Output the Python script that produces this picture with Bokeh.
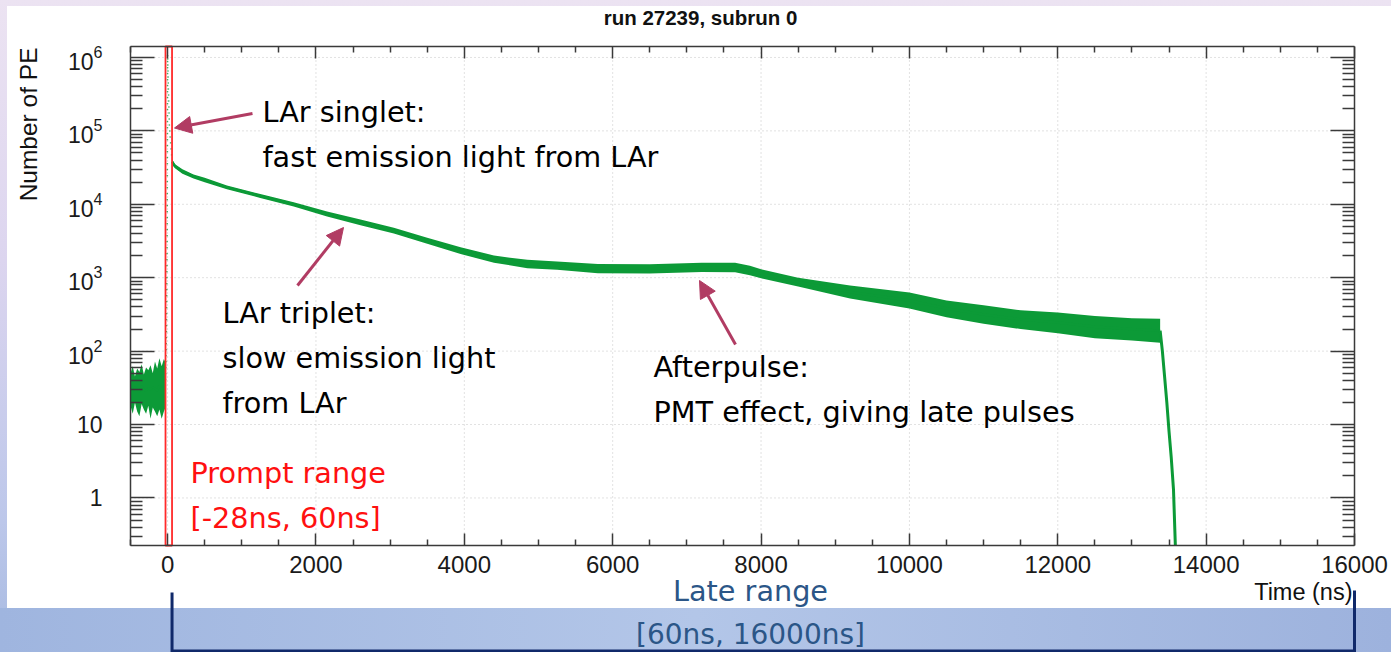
import math
from bokeh.plotting import figure
from bokeh.models import (Range1d, FixedTicker, LinearAxis, LogAxis, LogTickFormatter,
                          Label, Arrow, NormalHead)
from bokeh.embed import file_html
from bokeh.resources import INLINE

# ---------------- data ----------------
x_ticks = [0, 2000, 4000, 6000, 8000, 10000, 12000, 14000, 16000]
x_minor = [-500, 500, 1000, 1500, 2500, 3000, 3500, 4500, 5000, 5500, 6500, 7000, 7500,
           8500, 9000, 9500, 10500, 11000, 11500, 12500, 13000, 13500, 14500, 15000, 15500]
y_decades = [1, 10, 100, 1000, 10000, 100000, 1000000]

# pre-trigger noise (ns, PE)
pre_t = [-500, -470, -440, -410, -380, -350, -320, -290, -260, -230, -200, -170, -140,
         -110, -80, -50, -28]
pre_lo = [18, 14, 20, 15, 13, 19, 16, 14, 18, 12, 17, 15, 13, 16, 12, 15, 17]
pre_hi = [50, 62, 45, 58, 52, 66, 48, 60, 55, 64, 50, 72, 58, 80, 62, 78, 70]
pre_mid = [31, 29, 32, 30, 28, 33, 30, 29, 31, 30, 32, 31, 29, 34, 30, 33, 35]

# prompt peak
prompt_t = [-28, -15, -5, 0, 10, 25, 45, 60]
prompt_v = [40, 200, 5000, 1100000, 400000, 110000, 60000, 40000]

# slow component + afterpulse
late_t = [60, 100, 200, 350, 500, 800, 1250, 1700, 2150, 2600, 3050, 3500, 3950, 4400,
          4850, 5250, 5800, 6500, 7200, 7650, 7850, 8000, 8500, 9200, 10000, 10500, 11000,
          11500, 12000, 12500, 13000, 13380]
late_mid = [38000, 33000, 28000, 24000, 21500, 17000, 13000, 10000, 7400, 5700, 4400, 3200,
            2350, 1800, 1550, 1470, 1330, 1320, 1390, 1380, 1260, 1130, 870, 640, 490, 380,
            315, 270, 245, 215, 200, 190]
late_lo = [35000, 31000, 26000, 22500, 20000, 16000, 12200, 9300, 6800, 5200, 4000, 2900,
           2100, 1600, 1350, 1280, 1150, 1140, 1200, 1190, 1080, 980, 760, 520, 380, 290,
           235, 200, 175, 150, 140, 130]
late_hi = [41000, 35000, 30000, 25500, 23000, 18000, 13800, 10700, 8000, 6200, 4800, 3500,
           2600, 2000, 1750, 1660, 1540, 1520, 1600, 1600, 1460, 1300, 1000, 780, 630, 490,
           420, 360, 335, 300, 280, 275]

# end of the acquisition window (last value = empty bins at the frame bottom)
tail_t = [13380, 13410, 13440, 13470, 13500, 13530, 13560, 13585]
tail_v = [190, 100, 45, 20, 8, 3.5, 1.3, 0.225]

prompt_range = [-28, 60]
late_range = [60, 16000]

# ---------------- geometry ----------------
W, H = 1391, 652
FL, FR, FT, FB = 130, 1354, 46, 545          # ROOT frame, in pixels
X0, X1 = -500, 16000                         # ROOT axis ranges
Y0, Y1 = 0.225, 1.41e6
LY0, LY1 = math.log10(Y0), math.log10(Y1)


def dx(px):
    return X0 + (px - FL) * (X1 - X0) / (FR - FL)


def dy(py):
    return 10 ** (LY1 - (py - FT) * (LY1 - LY0) / (FB - FT))


GREEN = "#0c9a37"
ARROW = "#b13c63"
NAVY = "#10296a"
AXC = "#3a3a3a"
HELV = "Liberation Sans"
SLIDE = "DejaVu Sans"

# the bokeh frame covers the whole slide; the ROOT frame is drawn with fixed-location axes
p = figure(width=W, height=H, x_range=Range1d(dx(0), dx(W)), y_range=Range1d(dy(H), dy(0)),
           y_axis_type="log", x_axis_location=None, y_axis_location=None,
           title_location=None, output_backend="svg", toolbar_location=None,
           min_border=0, min_border_left=0, min_border_right=0, min_border_top=0,
           min_border_bottom=0)
p.border_fill_color = None
p.background_fill_color = None
p.outline_line_color = None
p.grid.visible = False
p.styles = {
    "background": (
        "linear-gradient(#ffffff, #ffffff) 7px 6px / 1384px 602px no-repeat, "
        "linear-gradient(to right, #9fb5df 0%, #b3c6e8 50%, #9db2dd 100%) 0px 608px / 100% 44px no-repeat, "
        "linear-gradient(to bottom, #ece3f2 0%, #dcd5ef 40%, #bcc7ea 80%, #a7bae1 100%)"
    )
}

xt = FixedTicker(ticks=x_ticks, minor_ticks=x_minor)
y_minor = [m * 10 ** k for k in range(-1, 7) for m in range(2, 10)
           if Y0 <= m * 10 ** k <= Y1]
yt = FixedTicker(ticks=y_decades, minor_ticks=y_minor)

# dotted grid at the major ticks
p.segment(x0=x_ticks[:-1], y0=[Y0] * (len(x_ticks) - 1), x1=x_ticks[:-1],
          y1=[Y1] * (len(x_ticks) - 1), line_color="#c4c4c4", line_dash="1 3", line_width=1)
p.segment(x0=[X0] * len(y_decades), y0=y_decades, x1=[X1] * len(y_decades), y1=y_decades,
          line_color="#c4c4c4", line_dash="1 3", line_width=1)


def make_axis(cls, ticker, loc, bounds, major_in, minor_in, labels):
    ax = cls(ticker=ticker, fixed_location=loc, bounds=bounds)
    ax.major_tick_in = major_in
    ax.major_tick_out = 0
    ax.minor_tick_in = minor_in
    ax.minor_tick_out = 0
    ax.axis_line_color = AXC
    ax.axis_line_width = 1.5
    ax.major_tick_line_color = AXC
    ax.minor_tick_line_color = AXC
    ax.major_tick_line_width = 1.5
    ax.minor_tick_line_width = 1.5
    if labels:
        ax.major_label_text_font = HELV
        ax.major_label_text_color = "#1a1a1a"
    else:
        ax.major_label_text_font_size = "1px"
        ax.major_label_text_color = None
        ax.major_label_standoff = 0
    return ax


xa = make_axis(LinearAxis, xt, Y0, (X0, X1), 12, 6, True)
xa.major_label_text_font_size = "24px"
xa.major_label_standoff = 10
p.add_layout(xa, "below")
top = make_axis(LinearAxis, xt, Y1, (X0, X1), 12, 6, False)
p.add_layout(top, "above")
ya = make_axis(LogAxis, yt, X0, (Y0, Y1), 24, 12, True)
ya.formatter = LogTickFormatter(min_exponent=2)
ya.major_label_text_font_size = "23px"
ya.major_label_standoff = 28
p.add_layout(ya, "left")
right = make_axis(LogAxis, yt, X1, (Y0, Y1), 24, 12, False)
p.add_layout(right, "right")

# ---------------- data marks ----------------
p.varea(x=pre_t, y1=pre_lo, y2=pre_hi, fill_color=GREEN)
p.line(pre_t, pre_mid, line_color=GREEN, line_width=2)
p.line(prompt_t, prompt_v, line_color=GREEN, line_width=1.5, line_dash="1 5")
p.varea(x=late_t, y1=late_lo, y2=late_hi, fill_color=GREEN)
p.line(late_t, late_mid, line_color=GREEN, line_width=2.5)
p.line(tail_t, tail_v, line_color=GREEN, line_width=3)

# prompt window box
p.quad(left=[prompt_range[0]], right=[prompt_range[1]], bottom=[Y0], top=[Y1],
       fill_color=None, line_color="#ff2a2a", line_width=1.8)


# ---------------- texts (positions = visual centre lines) ----------------
def lab(px, py, text, size, color="black", font=SLIDE, align="left", style="normal",
        angle=0.0):
    p.add_layout(Label(x=dx(px), y=dy(py), text=text, text_font=font,
                       text_font_size=size, text_color=color, text_align=align,
                       text_baseline="middle", text_font_style=style, angle=angle))


lab(700, 17, "run 27239, subrun 0", "20.5px", color="#111111", font=HELV, align="center",
    style="bold")
lab(1352, 591, "Time (ns)", "23.5px", color="#111111", font=HELV, align="right")
lab(28, 47, "Number of PE", "24.5px", color="#111111", font=HELV, align="right",
    angle=math.pi / 2)

lab(262, 111, "LAr singlet:", "28.7px")
lab(262, 156, "fast emission light from LAr", "28.7px")
lab(222, 312, "LAr triplet:", "28.7px")
lab(222, 357, "slow emission light", "28.7px")
lab(222, 402, "from LAr", "28.7px")
lab(653, 366, "Afterpulse:", "28.7px")
lab(653, 411, "PMT effect, giving late pulses", "28.7px")
lab(190, 472, "Prompt range", "28.7px", color="#ff1010")
lab(190, 517, "[-28ns, 60ns]", "28.7px", color="#ff1010")
lab(750, 590, "Late range", "28.7px", color="#2b5687", align="center")
lab(750, 634, "[60ns, 16000ns]", "28px", color="#2b5687", align="center")

# arrows
for (x0, y0, x1, y1) in ((252, 113, 174, 127.5), (297, 285, 343, 227), (735, 344, 699, 280)):
    p.add_layout(Arrow(x_start=dx(x0), y_start=dy(y0), x_end=dx(x1), y_end=dy(y1),
                       line_color=ARROW, line_width=3,
                       end=NormalHead(size=17, fill_color=ARROW, line_color=ARROW)))

# late range bracket
for (xs, ys, xe, ye) in ((late_range[0], dy(592), late_range[0], dy(652)),
                         (late_range[1], dy(590), late_range[1], dy(652)),
                         (late_range[0], dy(650.5), late_range[1], dy(650.5))):
    p.add_layout(Arrow(x_start=xs, y_start=ys, x_end=xe, y_end=ye, end=None,
                       line_color=NAVY, line_width=3))

open("out.html", "w").write(file_html(p, INLINE))
